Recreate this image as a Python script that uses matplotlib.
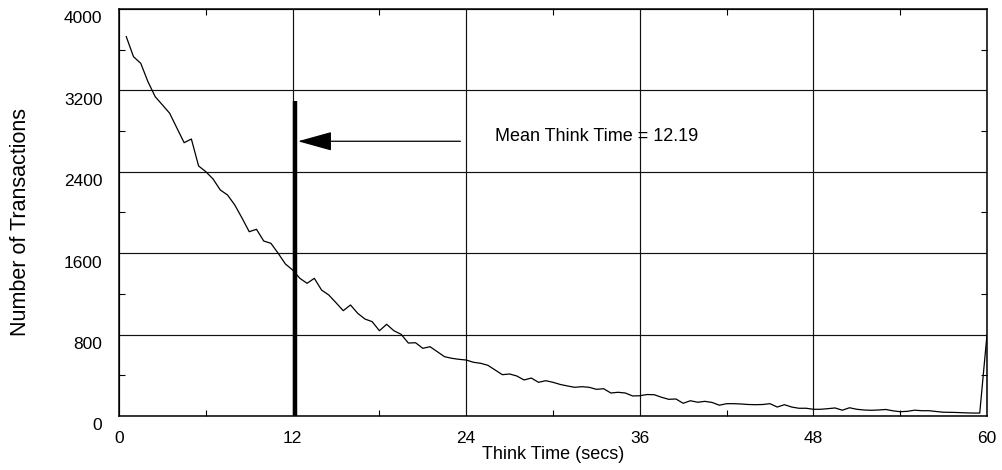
import numpy as np
import matplotlib
matplotlib.use("Agg")
import matplotlib.pyplot as plt
from matplotlib.ticker import MultipleLocator
from matplotlib.transforms import ScaledTranslation

plt.rcParams['font.family'] = ['Liberation Sans', 'DejaVu Sans']

# think time histogram, one bin every half second
think_time = np.arange(1, 121) * 0.5
transactions = [
    3728, 3531, 3466, 3285, 3138, 3057, 2975, 2830, 2686, 2722,
    2457, 2401, 2329, 2221, 2172, 2074, 1946, 1811, 1835, 1720,
    1697, 1599, 1494, 1435, 1353, 1304, 1353, 1238, 1189, 1113,
    1035, 1091, 1009, 953, 927, 838, 901, 838, 803, 717,
    720, 665, 681, 632, 583, 567, 557, 550, 528, 518,
    498, 452, 406, 413, 393, 354, 373, 331, 347, 331,
    310, 295, 282, 288, 282, 262, 268, 226, 233, 226,
    197, 199, 211, 209, 184, 164, 167, 125, 150, 135,
    144, 133, 106, 121, 121, 118, 113, 111, 113, 121,
    88, 111, 88, 76, 76, 66, 66, 72, 79, 57,
    81, 66, 59, 56, 59, 64, 51, 42, 46, 57,
    52, 52, 44, 37, 36, 34, 31, 29, 29, 796,
]

mean_think = 12.19
mean_bar_top = 3100
arrow_y = 2700
arrow_tail_x = 23.6
label_text = "Mean Think Time = 12.19"

x_ticks = [0, 12, 24, 36, 48, 60]
y_ticks = [0, 800, 1600, 2400, 3200, 4000]

fig = plt.figure(figsize=(10.02, 4.70), dpi=100)
ax = fig.add_axes([0.1188, 0.1149, 0.9850 - 0.1188, 0.9809 - 0.1149])

ax.plot(think_time, transactions, color='black', lw=0.9, zorder=3)
ax.plot([mean_think, mean_think], [0, mean_bar_top], color='black', lw=3.2,
        solid_capstyle='butt', zorder=4)

ax.annotate('', xy=(mean_think + 0.18, arrow_y), xytext=(arrow_tail_x, arrow_y),
            arrowprops=dict(arrowstyle='-|>,head_length=1.08,head_width=0.3',
                            mutation_scale=20, lw=0.9, color='black',
                            shrinkA=0, shrinkB=0))
ax.text(26.0, 2742, label_text, fontsize=13, va='center', ha='left')

ax.set_xlim(0, 60)
ax.set_ylim(0, 4000)
ax.set_xticks(x_ticks)
ax.set_yticks(y_ticks)
ax.xaxis.set_minor_locator(MultipleLocator(6))
ax.yaxis.set_minor_locator(MultipleLocator(400))
ax.grid(True, which='major', color='#111111', lw=0.85)
ax.set_axisbelow(True)

ax.tick_params(which='both', direction='in', top=True, right=True, labelsize=12.5)
ax.tick_params(which='major', length=0)
ax.tick_params(which='minor', length=4.5, width=0.8)
ax.tick_params(axis='x', which='major', pad=11)
ax.tick_params(axis='y', which='major', pad=12)
for sp in ax.spines.values():
    sp.set_linewidth(1.1)

# y tick labels sit a bit below their lines in the original
shift = ScaledTranslation(0, -8.5 / 100, fig.dpi_scale_trans)
for lab in ax.get_yticklabels():
    lab.set_transform(lab.get_transform() + shift)

ax.set_xlabel("Think Time (secs)", fontsize=13)
ax.xaxis.set_label_coords(0.5, -0.074)
ax.set_ylabel("Number of Transactions", fontsize=15.5)
ax.yaxis.set_label_coords(-0.114, 0.477)
ax.yaxis.label.set_va('center')

fig.savefig("out.png", dpi=100)
